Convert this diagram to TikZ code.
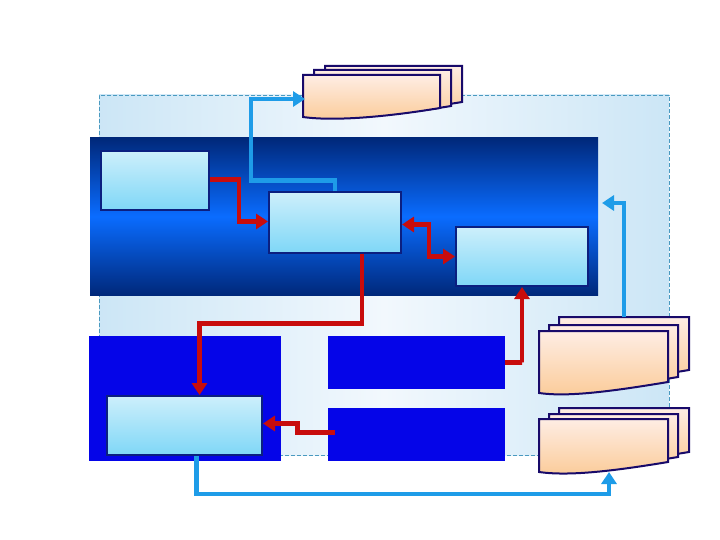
\documentclass[tikz,border=0pt]{standalone}
\usetikzlibrary{arrows.meta}
\definecolor{bandDark}{HTML}{00287A}
\definecolor{bandMid}{HTML}{0A6CFF}
\definecolor{paleBlue}{HTML}{CCE6F6}
\definecolor{paleWhite}{HTML}{F2F8FD}
\definecolor{zoneEdge}{HTML}{4A9AC0}
\definecolor{boxTop}{HTML}{CDEFFB}
\definecolor{boxBot}{HTML}{7FD7F7}
\definecolor{boxEdge}{HTML}{0B1F80}
\definecolor{solidBlue}{HTML}{0505E8}
\definecolor{docTop}{HTML}{FEEDE4}
\definecolor{docBot}{HTML}{FBCB98}
\definecolor{docEdge}{HTML}{180A6A}
\definecolor{flowRed}{HTML}{C80C0C}
\definecolor{flowBlue}{HTML}{1E9CE8}

% one sheet of a document stack: x0,y0,x1,y right bottom,y left bottom
\newcommand{\docsheet}[5]{%
  \draw[docpage] (#1,#2) -- (#3,#2) -- (#3,#4) .. controls +(-60,10) and +(28,4) .. (#1,#5) -- cycle;}

\begin{document}
\begin{tikzpicture}[x=1pt,y=-1pt,>={Triangle[length=12pt,width=15pt]},
  zone/.style={draw=zoneEdge, line width=.6pt, dash pattern=on 4pt off 2pt,
    left color=paleBlue, right color=paleBlue, middle color=paleWhite, inner sep=0pt},
  band/.style={top color=bandDark, bottom color=bandDark, middle color=bandMid, inner sep=0pt},
  lbox/.style={draw=boxEdge, line width=2pt, top color=boxTop, bottom color=boxBot, inner sep=0pt},
  sbox/.style={fill=solidBlue, inner sep=0pt},
  docpage/.style={draw=docEdge, line width=2pt, top color=docTop, bottom color=docBot},
  redflow/.style={draw=flowRed, line width=4.8pt},
  blueflow/.style={draw=flowBlue, line width=4.6pt}]
\useasboundingbox (0,0) rectangle (720,540);

\node[zone, minimum width=570, minimum height=360] (zone) at (384,275) {};
\node[band, minimum width=508, minimum height=157] (band) at (344,216.5) {};
\node[sbox, minimum width=192, minimum height=125] (boxG) at (185,398.5) {};
\node[sbox, minimum width=177, minimum height=53] (boxE) at (416.5,362.5) {};
\node[sbox, minimum width=177, minimum height=53] (boxF) at (416.5,434.5) {};

\node[lbox, minimum width=108, minimum height=59] (boxA) at (155,180.5) {};
\node[lbox, minimum width=132, minimum height=60] (boxB) at (335,222.5) {};
\node[lbox, minimum width=132, minimum height=59] (boxC) at (522,256.5) {};
\node[lbox, minimum width=155, minimum height=59] (boxD) at (184.5,425.5) {};

% document stacks
\docsheet{325}{66}{462}{102}{111}
\docsheet{314}{70}{451}{106}{115}
\docsheet{303}{75}{440}{108}{117}
\docsheet{559}{317}{689}{370}{381}
\docsheet{549}{325}{678}{377}{388}
\docsheet{539}{331}{668}{382}{393}
\docsheet{559}{408}{689}{452}{462}
\docsheet{549}{414}{678}{457}{467}
\docsheet{539}{419}{668}{462}{472}

\coordinate (docTopIn) at (305,99);
\coordinate (docRtop) at (624,317);
\coordinate (docRbot) at (609,472);
\coordinate (bandIn) at (602,203);

\draw[redflow, ->] ([yshift=1]boxA.east) -- ++(29,0) |- ([yshift=1]boxB.west);
\draw[redflow, <->] ([yshift=-2]boxB.east) -- ++(27,0) |- (boxC.west);
\draw[redflow, ->] ([xshift=27]boxB.south) -- ++(0,70) -| ([xshift=15]boxD.north);
\draw[redflow, ->] (boxE.east) -- ++(17,0) -| (boxC.south);
\draw[redflow, ->] ([xshift=7,yshift=2]boxF.west) -- ++(-37,0) |- ([yshift=2]boxD.east);

\draw[blueflow, ->] (boxB.north) -- ++(0,-11) -- ++(-84,0) |- (docTopIn);
\draw[blueflow, ->] (docRtop) |- (bandIn);
\draw[blueflow, ->] ([xshift=12]boxD.south) -- ++(0,38) -| (docRbot);
\end{tikzpicture}
\end{document}
